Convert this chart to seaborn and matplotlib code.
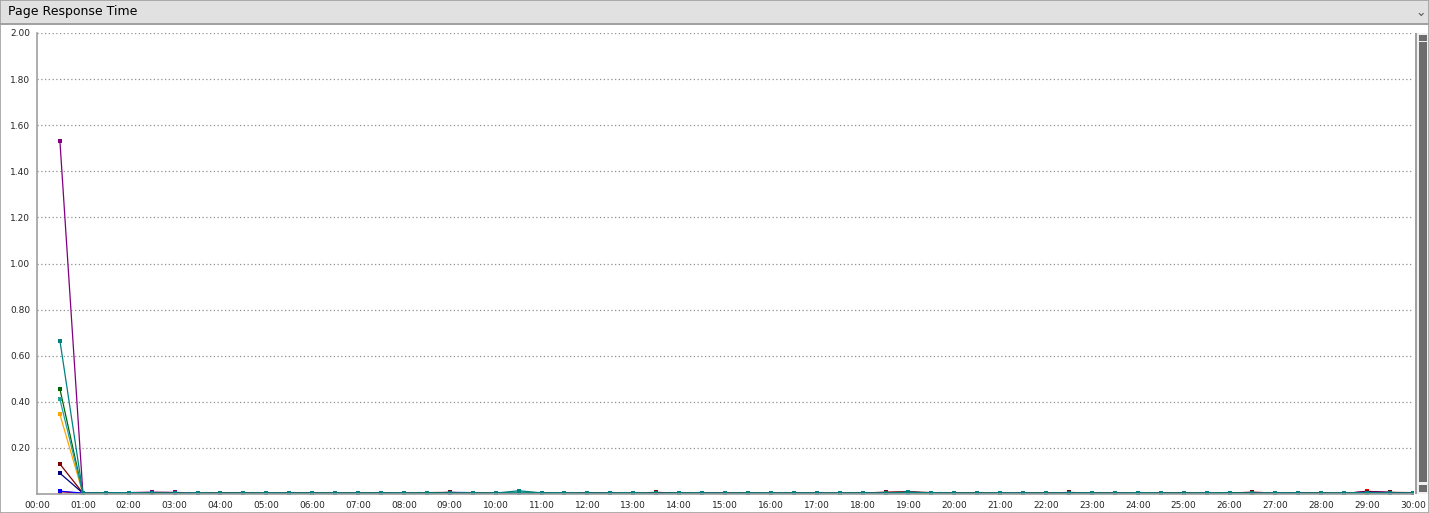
import numpy as np
import pandas as pd
import matplotlib
matplotlib.use("Agg")
import matplotlib.pyplot as plt
import seaborn as sns
from matplotlib.patches import Rectangle

# sample times, seconds (every 30 s from 00:30 to 30:00)
times = np.arange(30, 1801, 30)

# response time per page (s), one value per sample
purple = [1.53, 0.005, 0.004, 0.006, 0.008, 0.007, 0.004, 0.003, 0.004, 0.003,
          0.004, 0.003, 0.004, 0.003, 0.003, 0.004, 0.003, 0.004, 0.004, 0.003,
          0.006, 0.004, 0.003, 0.004, 0.003, 0.003, 0.004, 0.003, 0.004, 0.003,
          0.003, 0.004, 0.003, 0.003, 0.004, 0.003, 0.004, 0.007, 0.004, 0.003,
          0.003, 0.004, 0.003, 0.004, 0.003, 0.003, 0.004, 0.003, 0.004, 0.003,
          0.004, 0.003, 0.004, 0.005, 0.004, 0.003, 0.004, 0.006, 0.005, 0.004]
teal = [0.665, 0.004, 0.005, 0.006, 0.004, 0.003, 0.004, 0.003, 0.004, 0.003,
        0.004, 0.004, 0.003, 0.004, 0.004, 0.003, 0.004, 0.004, 0.003, 0.004,
        0.014, 0.005, 0.004, 0.003, 0.004, 0.004, 0.003, 0.004, 0.004, 0.003,
        0.004, 0.003, 0.004, 0.004, 0.003, 0.004, 0.004, 0.009, 0.004, 0.004,
        0.003, 0.004, 0.004, 0.003, 0.004, 0.004, 0.003, 0.004, 0.004, 0.003,
        0.004, 0.004, 0.003, 0.004, 0.004, 0.003, 0.004, 0.006, 0.004, 0.004]
darkgreen = [0.455, 0.003, 0.004, 0.003, 0.005, 0.004, 0.003, 0.004, 0.003, 0.004,
             0.003, 0.003, 0.004, 0.003, 0.004, 0.003, 0.005, 0.003, 0.004, 0.003,
             0.008, 0.005, 0.003, 0.004, 0.003, 0.004, 0.003, 0.004, 0.003, 0.003,
             0.004, 0.003, 0.004, 0.003, 0.003, 0.004, 0.003, 0.006, 0.004, 0.003,
             0.004, 0.003, 0.003, 0.004, 0.003, 0.004, 0.003, 0.004, 0.003, 0.004,
             0.003, 0.005, 0.003, 0.004, 0.003, 0.004, 0.003, 0.004, 0.003, 0.003]
cyan = [0.41, 0.003, 0.003, 0.004, 0.003, 0.003, 0.004, 0.003, 0.003, 0.004,
        0.003, 0.003, 0.004, 0.003, 0.003, 0.004, 0.003, 0.003, 0.004, 0.003,
        0.006, 0.003, 0.004, 0.003, 0.003, 0.004, 0.003, 0.003, 0.004, 0.003,
        0.003, 0.004, 0.003, 0.003, 0.004, 0.003, 0.003, 0.005, 0.004, 0.003,
        0.003, 0.004, 0.003, 0.003, 0.004, 0.003, 0.003, 0.004, 0.003, 0.003,
        0.004, 0.003, 0.003, 0.004, 0.003, 0.003, 0.004, 0.005, 0.003, 0.003]
orange = [0.345, 0.003, 0.005, 0.005, 0.003, 0.003, 0.004, 0.003, 0.004, 0.003,
          0.003, 0.004, 0.003, 0.003, 0.004, 0.003, 0.003, 0.004, 0.003, 0.003,
          0.004, 0.003, 0.003, 0.003, 0.002, 0.002, 0.003, 0.003, 0.004, 0.003,
          0.003, 0.004, 0.003, 0.003, 0.004, 0.003, 0.003, 0.005, 0.003, 0.003,
          0.004, 0.003, 0.003, 0.004, 0.003, 0.003, 0.004, 0.003, 0.003, 0.004,
          0.003, 0.003, 0.004, 0.003, 0.003, 0.004, 0.003, 0.004, 0.003, 0.003]
darkred = [0.13, 0.004, 0.006, 0.005, 0.006, 0.003, 0.004, 0.003, 0.005, 0.003,
           0.004, 0.003, 0.004, 0.003, 0.004, 0.003, 0.006, 0.007, 0.004, 0.003,
           0.005, 0.004, 0.003, 0.004, 0.003, 0.004, 0.007, 0.004, 0.006, 0.004,
           0.003, 0.004, 0.003, 0.004, 0.003, 0.004, 0.008, 0.010, 0.006, 0.003,
           0.004, 0.003, 0.004, 0.003, 0.007, 0.004, 0.003, 0.004, 0.003, 0.004,
           0.003, 0.004, 0.008, 0.004, 0.003, 0.004, 0.003, 0.009, 0.007, 0.006]
navy = [0.09, 0.004, 0.003, 0.003, 0.003, 0.003, 0.003, 0.003, 0.003, 0.003,
        0.004, 0.004, 0.003, 0.003, 0.003, 0.003, 0.004, 0.003, 0.003, 0.003,
        0.005, 0.004, 0.003, 0.004, 0.003, 0.003, 0.003, 0.003, 0.003, 0.003,
        0.003, 0.003, 0.003, 0.003, 0.003, 0.005, 0.003, 0.007, 0.005, 0.003,
        0.003, 0.003, 0.003, 0.003, 0.005, 0.003, 0.003, 0.003, 0.003, 0.003,
        0.003, 0.005, 0.003, 0.003, 0.005, 0.003, 0.003, 0.004, 0.003, 0.003]
blue = [0.012, 0.004, 0.003, 0.003, 0.003, 0.003, 0.003, 0.003, 0.003, 0.003,
        0.003, 0.003, 0.003, 0.003, 0.003, 0.003, 0.003, 0.007, 0.006, 0.003,
        0.004, 0.003, 0.003, 0.003, 0.003, 0.003, 0.003, 0.003, 0.003, 0.003,
        0.003, 0.003, 0.003, 0.003, 0.003, 0.003, 0.003, 0.006, 0.004, 0.003,
        0.003, 0.003, 0.003, 0.003, 0.003, 0.003, 0.003, 0.003, 0.003, 0.003,
        0.003, 0.003, 0.003, 0.003, 0.003, 0.003, 0.003, 0.010, 0.007, 0.003]
red = [0.010, 0.003, 0.004, 0.003, 0.003, 0.003, 0.003, 0.005, 0.004, 0.003,
       0.003, 0.003, 0.003, 0.003, 0.003, 0.003, 0.003, 0.003, 0.003, 0.003,
       0.003, 0.003, 0.003, 0.003, 0.003, 0.003, 0.003, 0.003, 0.003, 0.003,
       0.003, 0.003, 0.003, 0.003, 0.003, 0.003, 0.006, 0.008, 0.004, 0.003,
       0.003, 0.003, 0.003, 0.003, 0.003, 0.003, 0.003, 0.003, 0.003, 0.003,
       0.003, 0.003, 0.003, 0.003, 0.003, 0.002, 0.002, 0.012, 0.006, 0.003]

series = {
    "red": (red, "#ff0000"),
    "blue": (blue, "#0000ff"),
    "orange": (orange, "#ffa500"),
    "darkred": (darkred, "#800000"),
    "navy": (navy, "#000080"),
    "purple": (purple, "#800080"),
    "darkgreen": (darkgreen, "#006400"),
    "cyan": (cyan, "#20a0a0"),
    "teal": (teal, "#008080"),
}

rows = []
for name, (vals, _) in series.items():
    for t, v in zip(times, vals):
        rows.append({"t": t / 60.0, "value": v, "page": name})
df = pd.DataFrame(rows)
palette = {k: c for k, (_, c) in series.items()}

sns.set_style("white")
plt.rcParams['font.family'] = ['DejaVu Sans']

fig = plt.figure(figsize=(14.29, 5.13), dpi=100)
W, H = 1429, 513

# header bar
fig.patches.append(Rectangle((0, (H - 24) / H), 1, 24 / H, transform=fig.transFigure,
                             facecolor="#e1e1e1", edgecolor="#a0a0a0", lw=1.2))
fig.text(8 / W, (H - 12) / H, "Page Response Time", fontsize=9, va="center",
         ha="left", color="#000000")
fig.text(1421 / W, (H - 12) / H, "\u2304", fontsize=9, va="center", ha="center",
         color="#555555")
# outer border
fig.patches.append(Rectangle((0, 0), 1, (H - 24) / H, transform=fig.transFigure,
                             facecolor="none", edgecolor="#a0a0a0", lw=1.2))

ax = fig.add_axes([37 / W, 19 / H, 1376 / W, 461 / H])
sns.lineplot(data=df, x="t", y="value", hue="page", palette=palette,
             hue_order=list(series.keys()), marker="s", markersize=3.2,
             markeredgewidth=0, linewidth=0.9, legend=False, ax=ax)

ax.set_xlim(0, 30)
ax.set_ylim(0, 2.0)
ax.set_xticks(range(0, 31))
ax.set_xticklabels([f"{m:02d}:00" for m in range(0, 31)], fontsize=6.5)
yt = [0.2 * i for i in range(1, 11)]
ax.set_yticks(yt)
ax.set_yticklabels([f"{v:.2f}" for v in yt], fontsize=6.5)
ax.set_xlabel("")
ax.set_ylabel("")
ax.tick_params(axis="both", length=3, width=0.8, color="#a0a0a0", pad=2)
ax.yaxis.grid(True, linestyle=(0, (1, 2)), color="#909090", linewidth=0.9)
ax.xaxis.grid(False)
for s in ["top", "right"]:
    ax.spines[s].set_visible(False)
for s in ["left", "bottom"]:
    ax.spines[s].set_color("#a0a0a0")
    ax.spines[s].set_linewidth(1.2)

# scrollbar
sb = fig.add_axes([1415 / W, 19 / H, 14 / W, 461 / H])
sb.set_xlim(0, 14)
sb.set_ylim(0, 461)
sb.axis("off")
sb.add_patch(Rectangle((0, 0), 14, 461, facecolor="#f0f0f0", edgecolor="none"))
sb.add_patch(Rectangle((0, 0), 2, 461, facecolor="#a0a0a0", edgecolor="none"))
sb.add_patch(Rectangle((4, 12), 8, 440, facecolor="#6d6d6d", edgecolor="none"))
sb.add_patch(Rectangle((4, 453), 8, 6, facecolor="#6d6d6d", edgecolor="none"))
sb.add_patch(Rectangle((4, 2), 8, 7, facecolor="#6d6d6d", edgecolor="none"))

fig.savefig("out.png", dpi=100)
